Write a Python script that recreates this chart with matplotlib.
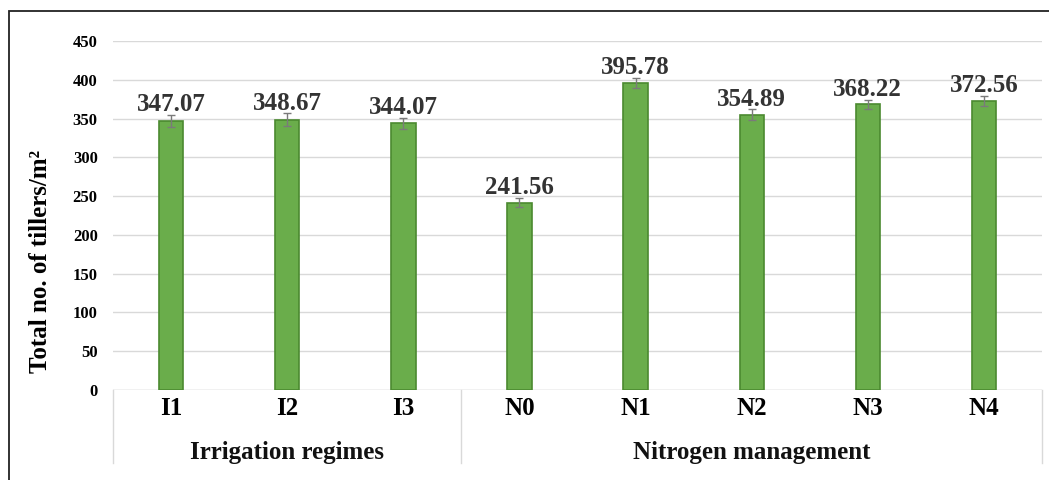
import matplotlib.pyplot as plt
from matplotlib.patches import Rectangle
import matplotlib.transforms as mtransforms

# data
groups = ['Irrigation regimes', 'Nitrogen management']
group_sizes = [3, 5]
categories = ['I1', 'I2', 'I3', 'N0', 'N1', 'N2', 'N3', 'N4']
tillers = [347.07, 348.67, 344.07, 241.56, 395.78, 354.89, 368.22, 372.56]
errors = [8, 8, 7, 6, 7, 7, 6, 7]

serif = ['Liberation Serif', 'DejaVu Serif']
plt.rcParams['font.family'] = serif
plt.rcParams['font.weight'] = 'bold'

fig = plt.figure(figsize=(10.49, 4.8), dpi=100)
ax = fig.add_axes([0.1077, 0.1875, 0.8857, 0.7271])

# outer frame (only left and top edges fall inside the picture)
fig.patches.append(Rectangle((8.5 / 1049, -0.05), 1.1, 1.05 - 11 / 480,
                             transform=fig.transFigure, fill=False,
                             edgecolor='#222222', linewidth=1.3))

x = list(range(len(categories)))
ax.bar(x, tillers, width=0.21, color='#6aad4b', edgecolor='#4b8a30',
       linewidth=1.2, zorder=3)
ax.errorbar(x, tillers, yerr=errors, fmt='none', ecolor='#7a7a7a',
            elinewidth=1, capsize=3, capthick=1, zorder=4)

for xi, v, e in zip(x, tillers, errors):
    ax.annotate(f'{v:.2f}', (xi, v + e), xytext=(0, -1), textcoords='offset points',
                ha='center', va='bottom', fontsize=18, fontweight='bold',
                color='#333333')

ax.set_xlim(-0.5, len(categories) - 0.5)
ax.set_ylim(0, 450)
ax.set_yticks(range(0, 451, 50))
ax.tick_params(axis='y', length=0, pad=11, labelsize=12)
ax.tick_params(axis='x', length=0, pad=5, labelsize=18)
ax.set_xticks(x)
ax.set_xticklabels(categories, fontweight='bold')
ax.grid(axis='y', color='#d9d9d9', linewidth=1, zorder=0)
for s in ax.spines.values():
    s.set_visible(False)
ax.axhline(0, color='#d9d9d9', linewidth=1, zorder=1)

ax.set_ylabel('Total no. of tillers/m²', fontsize=18, fontweight='bold')
ax.yaxis.set_label_coords(-0.066, 0.367)

# group labels and separators under the category axis
trans = mtransforms.blended_transform_factory(ax.transData, ax.transAxes)
start = -0.5
bounds = [start]
for name, n in zip(groups, group_sizes):
    ax.text(start + n / 2, -0.178, name, transform=trans, ha='center',
            va='center', fontsize=18, fontweight='bold', color='#111111')
    start += n
    bounds.append(start)
for b in bounds:
    ax.plot([b, b], [0, -0.209], transform=trans, color='#d9d9d9',
            linewidth=1, clip_on=False)

fig.savefig('out.png', dpi=100)
